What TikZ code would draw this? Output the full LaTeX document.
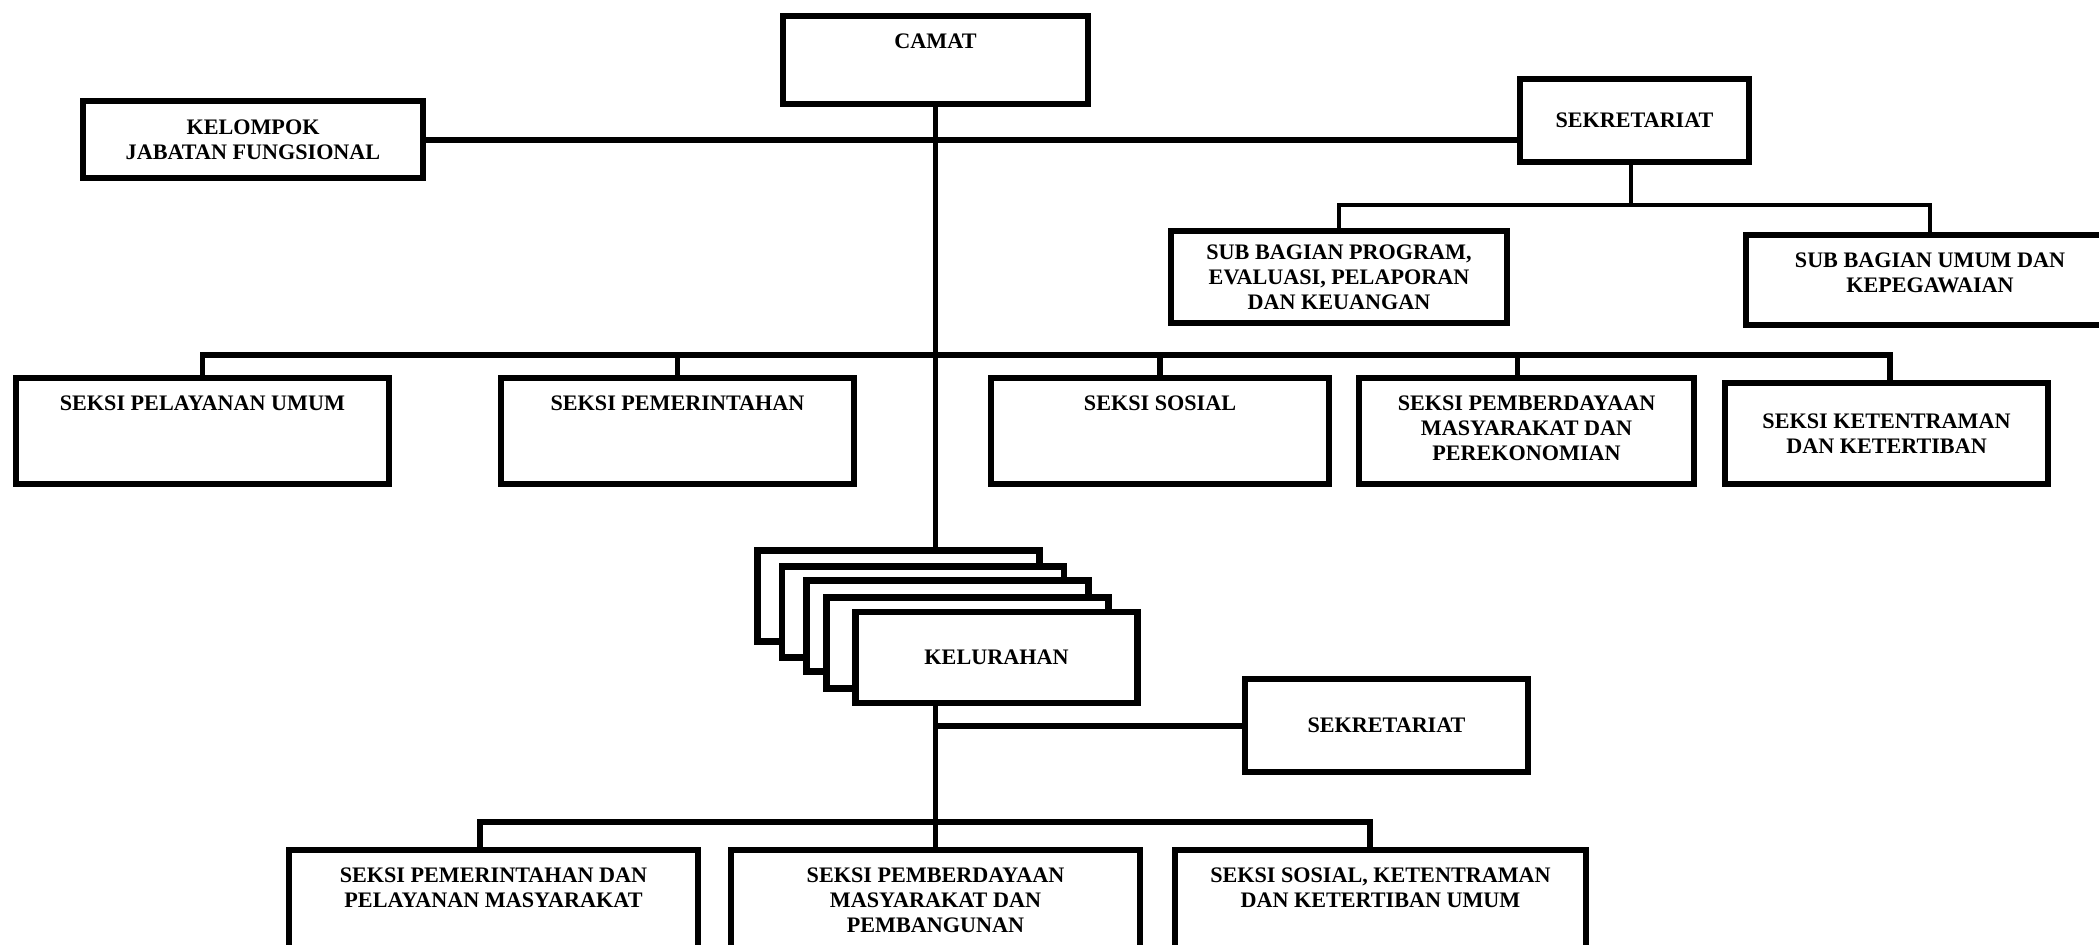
\documentclass[tikz,border=0pt]{standalone}
\usepackage{fontspec}
\setmainfont{Liberation Serif}
\usepackage{tikz}
\newcommand{\orgfont}{\fontsize{6.3}{7.1}\selectfont\bfseries}
\tikzstyle{orgbox} = [rectangle, draw=black, line width=1.85pt, fill=white, text centered, align=center, inner sep=0pt, font=\orgfont]
\tikzstyle{toptext} = [anchor=north, yshift=-0.2cm, align=center, inner sep=0pt, font=\orgfont]
\tikzstyle{kelbox} = [orgbox, minimum width=2.815cm, minimum height=0.905cm]
\tikzstyle{link} = [line width=1.7pt]
\tikzstyle{sublink} = [line width=1pt]

\begin{document}
\begin{tikzpicture}[x=0.01cm, y=-0.01cm]
\useasboundingbox (0,0) rectangle (2099,944);
\clip (0,0) rectangle (2099,944);

% kecamatan
\node (camat) [orgbox, minimum width=3.045cm, minimum height=0.875cm, label={[toptext]north:CAMAT}] at (935.5,60) {};
\node (jafung) [orgbox, minimum width=3.395cm, minimum height=0.765cm] at (253,139.5) {KELOMPOK\\JABATAN FUNGSIONAL};
\node (sekcam) [orgbox, minimum width=2.285cm, minimum height=0.825cm] at (1634.5,120.5) {SEKRETARIAT};
\node (subprog) [orgbox, minimum width=3.355cm, minimum height=0.915cm] at (1339,277) {SUB BAGIAN PROGRAM,\\EVALUASI, PELAPORAN\\DAN KEUANGAN};
\node (subumum) [orgbox, minimum width=3.675cm, minimum height=0.895cm, label={[toptext]north:{SUB BAGIAN UMUM DAN\\KEPEGAWAIAN}}] at (1930,280) {};

% seksi kecamatan
\node (pelum) [orgbox, minimum width=3.725cm, minimum height=1.055cm, label={[toptext]north:SEKSI PELAYANAN UMUM}] at (202.5,431) {};
\node (pemer) [orgbox, minimum width=3.525cm, minimum height=1.055cm, label={[toptext]north:SEKSI PEMERINTAHAN}] at (677.5,431) {};
\node (sosial) [orgbox, minimum width=3.375cm, minimum height=1.055cm, label={[toptext]north:SEKSI SOSIAL}] at (1160,431) {};
\node (pemek) [orgbox, minimum width=3.345cm, minimum height=1.055cm, label={[toptext]north:{SEKSI PEMBERDAYAAN\\MASYARAKAT DAN\\PEREKONOMIAN}}] at (1526.5,431) {};
\node (trantib) [orgbox, minimum width=3.225cm, minimum height=1.005cm] at (1886.5,433.5) {SEKSI KETENTRAMAN\\DAN KETERTIBAN};

% kelurahan
\node (kel1) [kelbox] at (898.5,596) {};
\node (kel2) [kelbox] at (923,612) {};
\node (kel3) [kelbox] at (947.5,626) {};
\node (kel4) [kelbox] at (967.5,643) {};
\node (kel) [kelbox] at (996.5,657.5) {KELURAHAN};
\node (seklur) [orgbox, minimum width=2.825cm, minimum height=0.925cm] at (1386.5,725.5) {SEKRETARIAT};

\node (pempel) [orgbox, minimum width=4.085cm, minimum height=1cm, label={[toptext]north:{SEKSI PEMERINTAHAN DAN\\PELAYANAN MASYARAKAT}}] at (493.5,900) {};
\node (pemban) [orgbox, minimum width=4.085cm, minimum height=1cm, label={[toptext]north:{SEKSI PEMBERDAYAAN\\MASYARAKAT DAN\\PEMBANGUNAN}}] at (935.5,900) {};
\node (sostrantib) [orgbox, minimum width=4.105cm, minimum height=1cm, label={[toptext]north:{SEKSI SOSIAL, KETENTRAMAN\\DAN KETERTIBAN UMUM}}] at (1380.5,900) {};

\coordinate (bussek) at (1631,205);
\coordinate (busseksi) at (935.5,355);
\coordinate (buskel) at (935.5,822);

\draw [link] (camat.south) -- (camat.south |- kel1.north);
\draw [link] (jafung.east) -- (jafung.east -| sekcam.west);

\draw [sublink] (sekcam.south -| bussek) -- (bussek);
\draw [sublink] (subprog.north) |- (bussek) -| (subumum.north);

\draw [link] (pelum.north) |- (busseksi) -| ([xshift=0.035cm]trantib.north);
\draw [link] (pemer.north) -- (pemer.north |- busseksi);
\draw [link] (sosial.north) -- (sosial.north |- busseksi);
\draw [link] ([xshift=-0.09cm]pemek.north) -- ([xshift=-0.09cm]pemek.north |- busseksi);

\draw [link] (pemban.north |- kel.south) -- (pemban.north);
\draw [link] (seklur.west) -- (seklur.west -| pemban.north);
\draw [link] ([xshift=-0.135cm]pempel.north) |- (buskel) -| ([xshift=-0.105cm]sostrantib.north);

\end{tikzpicture}
\end{document}
